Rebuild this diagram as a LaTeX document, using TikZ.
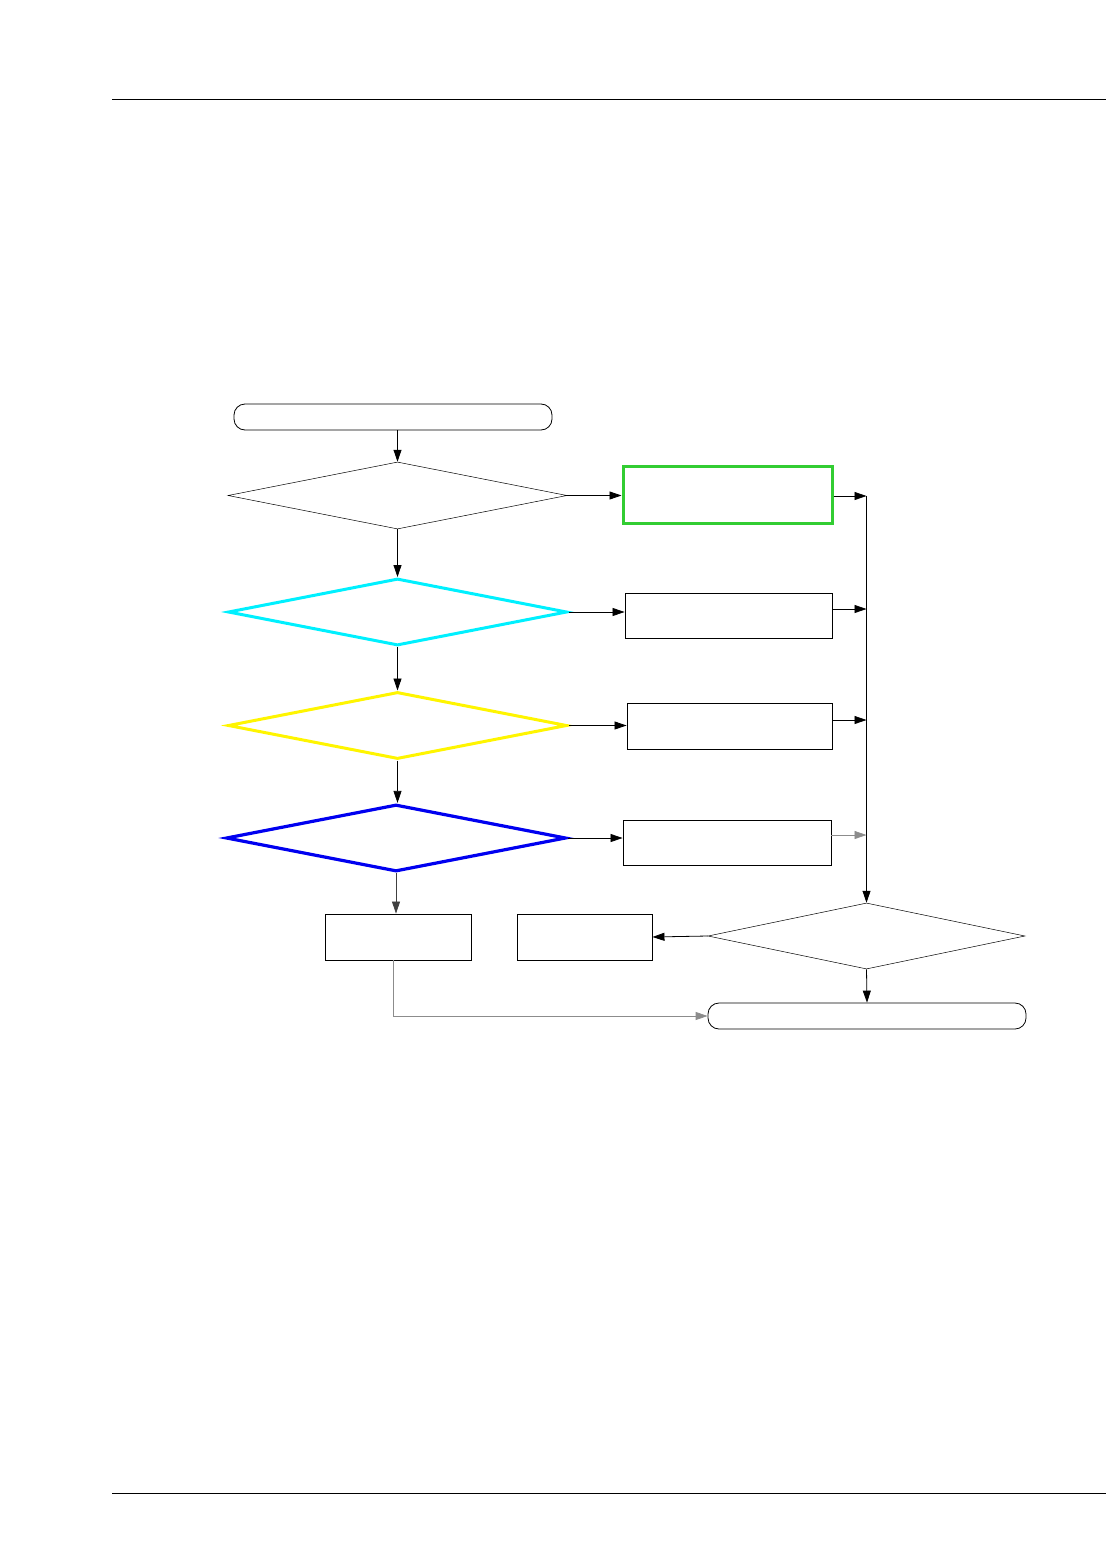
\documentclass[tikz,border=0pt]{standalone}
\usetikzlibrary{shapes.geometric,arrows.meta}
\definecolor{gbox}{RGB}{50,205,50}
\definecolor{cy}{RGB}{0,240,255}
\definecolor{yl}{RGB}{255,245,0}
\definecolor{bl}{RGB}{0,0,240}
\begin{document}
\begin{tikzpicture}[x=1pt,y=-1pt,
  arr/.style={line width=0.8pt,-{Triangle[length=12pt,width=8pt]}},
  garr/.style={arr,draw=black!45},
  dec/.style={diamond,draw,inner sep=0pt,minimum width=339pt,minimum height=67pt},
  term/.style={rectangle,rounded corners=11pt,draw,line width=0.8pt,inner sep=0pt},
  box/.style={rectangle,draw,line width=0.9pt,inner sep=0pt}]
\useasboundingbox (0,0) rectangle (1107,1554);
% page rules
\coordinate (tl) at (112,99); \coordinate (tr) at (1106,99);
\coordinate (bl1) at (112,1493); \coordinate (br1) at (1106,1493);
\draw[line width=0.9pt] (tl) -- (tr);
\draw[line width=0.9pt] (bl1) -- (br1);
% nodes
\node[term,minimum width=318pt,minimum height=26pt] (start) at (393,417) {};
\node[dec,line width=0.5pt] (d1) at (397.5,495.5) {};
\node[dec,draw=cy,line width=3pt] (d2) at (397.5,612) {};
\node[dec,draw=yl,line width=3pt] (d3) at (397.5,725.5) {};
\node[dec,draw=bl,line width=3.2pt,minimum width=340pt] (d4) at (396,838) {};
\node[box,draw=gbox,line width=3pt,minimum width=209pt,minimum height=57pt] (b1) at (727.5,494.5) {};
\node[box,minimum width=207pt,minimum height=45pt] (b2) at (728.5,615.5) {};
\node[box,minimum width=205pt,minimum height=46pt] (b3) at (729.5,726) {};
\node[box,minimum width=208pt,minimum height=45pt] (b4) at (727,842.5) {};
\node[box,minimum width=146pt,minimum height=46pt] (b5) at (398,937) {};
\node[box,minimum width=135pt,minimum height=46pt] (b6) at (584.5,937) {};
\node[dec,line width=0.5pt,minimum width=317pt,minimum height=66pt] (d5) at (866.5,936) {};
\node[term,minimum width=318pt,minimum height=26pt] (end) at (867,1016) {};
% bus
\coordinate (j1) at (866.5,496);
\coordinate (j2) at (866.5,609);
\coordinate (j3) at (866.5,720);
\coordinate (j4) at (866.5,835);
\coordinate (s0) at (397.5,430);
\coordinate (q5) at (393,960);
\draw[arr] (j1) -- (d5.north);
% connectors
\draw[arr] (s0) -- (d1.north);
\draw[arr] (d1.south) -- (d2.north);
\draw[arr] (d2.south) -- (d3.north);
\draw[arr] (d3.south) -- (d3.south |- d4.north);
\draw[arr,draw=black!75] (d4.south) -- (d4.south |- b5.north);
\draw[arr] (d1.east) -- (d1.east -| b1.west);
\draw[arr] (d2.east) -- (d2.east -| b2.west);
\draw[arr] (d3.east) -- (d3.east -| b3.west);
\draw[arr] (d4.east) -- (d4.east -| b4.west);
\draw[arr] (b1.east |- j1) -- (j1);
\draw[arr] (b2.east |- j2) -- (j2);
\draw[arr] (b3.east |- j3) -- (j3);
\draw[garr] (b4.east |- j4) -- (j4);
\draw[arr] (d5.west) -- (b6.east);
\draw[arr] (d5.south) -- (end.north);
\draw[garr] (q5) |- (end.west);
\end{tikzpicture}
\end{document}
